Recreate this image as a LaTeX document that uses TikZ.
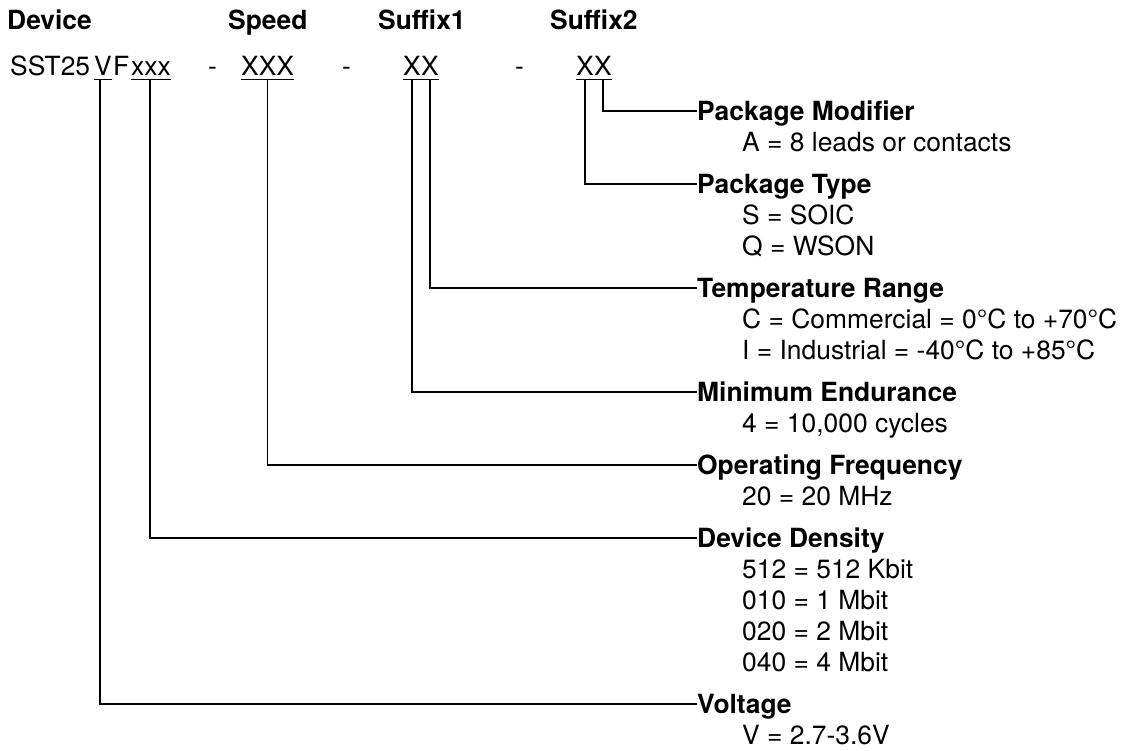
\documentclass[tikz,border=0pt]{standalone}
\usepackage{fontspec}
\setmainfont{TeX Gyre Heros}
\begin{document}
\begin{tikzpicture}[x=1pt,y=-1pt,
  txt/.style={anchor=base west,inner sep=0pt,font=\fontsize{26.4}{31}\selectfont},
  hd/.style={anchor=base west,inner sep=0pt,font=\fontsize{26.4}{31}\selectfont\bfseries},
  conn/.style={line width=1.5pt},
  ul/.style={line width=1.3pt}]
\useasboundingbox (0,0) rectangle (1122,751);
% column headings
\node[hd] (hdev) at (7,30) {Device};
\node[hd] (hspd) at (228,30) {Speed};
\node[hd] (hs1) at (378,30) {Suffix1};
\node[hd] (hs2) at (550,30) {Suffix2};
% part number
\node[txt] (pSST) at (10,76) {SST25};
\node[txt] (pV) at (94,76) {V};
\node[txt] (pF) at (113,76) {F};
\node[txt] (pxxx) at (131,76) {xxx};
\node[txt] (d1) at (208,76) {-};
\node[txt] (pXXX) at (241,76) {XXX};
\node[txt] (d2) at (342,76) {-};
\node[txt] (pa) at (403,76) {X};
\node[txt] (pb) at (421,76) {X};
\node[txt] (d3) at (515,76) {-};
\node[txt] (pc) at (576,76) {X};
\node[txt] (pd) at (594,76) {X};
\foreach \n in {pV,pxxx,pXXX,pa,pb,pc,pd}
  \draw[ul] ([yshift=-3.5pt]\n.base west) -- ([yshift=-3.5pt]\n.base east);
% right-hand labels
\node[hd] (hPM) at (697,120.5) {Package Modifier};
\node[txt] (tA) at (742,151.5) {A = 8 leads or contacts};
\node[hd] (hPT) at (697,193.5) {Package Type};
\node[txt] (tS) at (742,224.5) {S = SOIC};
\node[txt] (tQ) at (742,255.5) {Q = WSON};
\node[hd] (hTR) at (697,297.5) {Temperature Range};
\node[txt] (tC) at (742,328.5) {C = Commercial = 0°C to +70°C};
\node[txt] (tI) at (742,359.5) {I = Industrial = -40°C to +85°C};
\node[hd] (hME) at (697,401.5) {Minimum Endurance};
\node[txt] (t4) at (742,432.5) {4 = 10,000 cycles};
\node[hd] (hOF) at (697,474.5) {Operating Frequency};
\node[txt] (t20) at (742,505.5) {20 = 20 MHz};
\node[hd] (hDD) at (697,547.5) {Device Density};
\node[txt] (t512) at (742,578.5) {512 = 512 Kbit};
\node[txt] (t010) at (742,609.5) {010 = 1 Mbit};
\node[txt] (t020) at (742,640.5) {020 = 2 Mbit};
\node[txt] (t040) at (742,671.5) {040 = 4 Mbit};
\node[hd] (hVo) at (697,713.5) {Voltage};
\node[txt] (tV) at (742,744.5) {V = 2.7-3.6V};
% connectors
\draw[conn] ([yshift=-3.5pt]pd.base) |- ([yshift=9.5pt]hPM.base west);
\draw[conn] ([yshift=-3.5pt]pc.base) |- ([yshift=9.5pt]hPT.base west);
\draw[conn] ([yshift=-3.5pt]pb.base) |- ([yshift=9.5pt]hTR.base west);
\draw[conn] ([yshift=-3.5pt]pa.base) |- ([yshift=9.5pt]hME.base west);
\draw[conn] ([yshift=-3.5pt]pXXX.base) |- ([yshift=9.5pt]hOF.base west);
\draw[conn] ([yshift=-3.5pt,xshift=-1pt]pxxx.base) |- ([yshift=9.5pt]hDD.base west);
\draw[conn] ([yshift=-3.5pt,xshift=-3pt]pV.base) |- ([yshift=9.5pt]hVo.base west);
\end{tikzpicture}
\end{document}
